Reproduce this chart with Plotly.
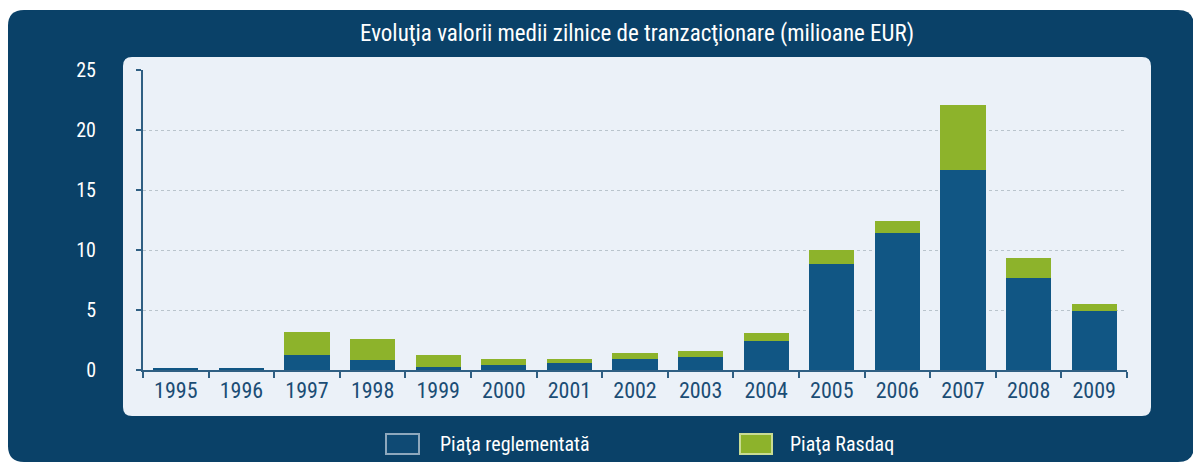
import plotly.graph_objects as go

# data (milioane EUR)
years = ["1995", "1996", "1997", "1998", "1999", "2000", "2001", "2002",
         "2003", "2004", "2005", "2006", "2007", "2008", "2009"]
reglementata = [0.2, 0.2, 1.25, 0.8, 0.25, 0.45, 0.6, 0.9, 1.1, 2.4,
                8.85, 11.4, 16.7, 7.7, 4.95]
rasdaq = [0.0, 0.0, 1.95, 1.75, 1.0, 0.5, 0.35, 0.55, 0.5, 0.65,
          1.15, 1.0, 5.4, 1.6, 0.55]
y_ticks = [0, 5, 10, 15, 20, 25]

title = "Evoluţia valorii medii zilnice de tranzacţionare (milioane EUR)"
names = ["Piaţa reglementată", "Piaţa Rasdaq"]

FONT = "Liberation Sans Narrow, Roboto Condensed, DejaVu Sans Condensed, Arial Narrow, sans-serif"
DARK = "#0a4168"
BLUE = "#115684"
GREEN = "#8db32b"

# the page body has an 8px margin, so the figure starts at (8, 8)
OFF = 8
W, H = 1201 - OFF, 464 - OFF
L, R, T, B = 143 - OFF, 74, 70 - OFF, 94
PW, PH = W - L - R, H - T - B


def px(x):
    return (x - OFF - L) / PW


def py(y):
    return (H - B - (y - OFF)) / PH


def rounded(x0, y0, x1, y1, r):
    # rounded rectangle as svg path, screen pixel coords -> paper coords
    pts = [
        ("M", [(x0 + r, y0)]),
        ("L", [(x1 - r, y0)]), ("Q", [(x1, y0), (x1, y0 + r)]),
        ("L", [(x1, y1 - r)]), ("Q", [(x1, y1), (x1 - r, y1)]),
        ("L", [(x0 + r, y1)]), ("Q", [(x0, y1), (x0, y1 - r)]),
        ("L", [(x0, y0 + r)]), ("Q", [(x0, y0), (x0 + r, y0)]),
    ]
    s = ""
    for cmd, ps in pts:
        s += cmd + " ".join("%.5f,%.5f" % (px(a), py(b)) for a, b in ps) + " "
    return s + "Z"


fig = go.Figure()

fig.add_trace(go.Bar(x=years, y=reglementata, name=names[0],
                     marker=dict(color=BLUE, line=dict(width=0)),
                     width=0.69, showlegend=False))
fig.add_trace(go.Bar(x=years, y=rasdaq, name=names[1],
                     marker=dict(color=GREEN, line=dict(width=0)),
                     width=0.69, showlegend=False))

shapes = [
    dict(type="path", xref="paper", yref="paper", layer="below",
         path=rounded(8, 10, 1194, 462, 16), fillcolor=DARK, line=dict(width=0)),
    dict(type="path", xref="paper", yref="paper", layer="below",
         path=rounded(123, 57, 1151, 416, 9), fillcolor="#ebf1f8", line=dict(width=0)),
    # legend boxes
    dict(type="rect", xref="paper", yref="paper",
         x0=px(386), x1=px(419), y0=py(434), y1=py(454),
         fillcolor="#0f4a74", line=dict(color="#8ea8bd", width=2)),
    dict(type="rect", xref="paper", yref="paper",
         x0=px(740), x1=px(772), y0=py(434), y1=py(454),
         fillcolor=GREEN, line=dict(color="#c9dc93", width=2)),
]

annotations = [
    dict(text=title, x=px(637), y=py(33), xref="paper", yref="paper",
         showarrow=False, xanchor="center", yanchor="middle",
         font=dict(family=FONT, size=23, color="white")),
    dict(text=names[0], x=px(438), y=py(444), xref="paper", yref="paper",
         showarrow=False, xanchor="left", yanchor="middle",
         font=dict(family=FONT, size=20, color="white")),
    dict(text=names[1], x=px(788), y=py(444), xref="paper", yref="paper",
         showarrow=False, xanchor="left", yanchor="middle",
         font=dict(family=FONT, size=20, color="white")),
]

fig.update_layout(
    width=W, height=H,
    margin=dict(l=L, r=R, t=T, b=B),
    barmode="stack",
    paper_bgcolor="white",
    plot_bgcolor="rgba(0,0,0,0)",
    shapes=shapes,
    annotations=annotations,
    showlegend=False,
    xaxis=dict(
        type="category", range=[-0.5, 14.5],
        showline=True, linecolor="#2f5f83", linewidth=2,
        ticks="outside", tickson="boundaries", ticklen=6,
        tickcolor="#2f5f83", tickwidth=2,
        showgrid=False,
        tickfont=dict(family=FONT, size=22, color="#1b4d75"),
    ),
    yaxis=dict(
        range=[0, 25], tickvals=y_ticks,
        showline=True, linecolor="#2f5f83", linewidth=2,
        ticks="outside", ticklen=5, tickcolor="#2f5f83", tickwidth=2,
        ticklabelstandoff=36,
        showgrid=True, gridcolor="#b9c4cc", griddash="dot", gridwidth=1,
        zeroline=False,
        tickfont=dict(family=FONT, size=20, color="white"),
    ),
)

fig.write_html("out.html")
